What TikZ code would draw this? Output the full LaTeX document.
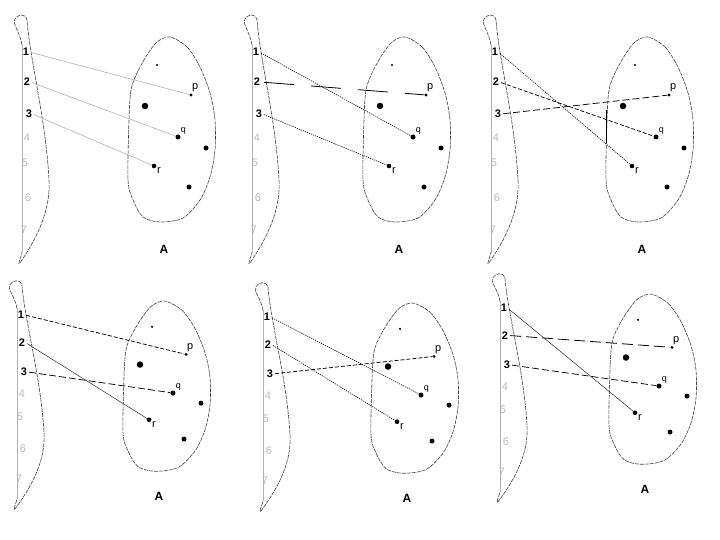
\documentclass[tikz,border=0pt]{standalone}
\usepackage{fontspec}
\setmainfont{Liberation Sans}
\usetikzlibrary{positioning}

\begin{document}
\begin{tikzpicture}[x=1bp,y=-1bp,
every node/.style={inner sep=0pt},
num/.style={font=\fontsize{11}{11}\selectfont\bfseries},
numoff/.style={font=\fontsize{11}{11}\selectfont,text=gray!55},
spot/.style={circle,fill=black,minimum size=#1},
lbl/.style={font=\fontsize{11}{11}\selectfont,label distance=1bp},
outline/.style={gray!50!black,line width=0.6bp,dash pattern=on 4bp off 1bp},
faint/.style={gray!60,line width=0.6bp,shorten <=2bp},
plain/.style={black!85,line width=0.5bp,shorten <=2bp},
fine/.style={black,line width=0.6bp,dash pattern=on 1.2bp off 1bp,shorten <=2bp},
shortdash/.style={black,line width=0.75bp,dash pattern=on 4bp off 2bp,shorten <=2bp},
middash/.style={black,line width=0.75bp,dash pattern=on 7bp off 3bp,shorten <=2bp},
widedash/.style={black,line width=0.8bp,dash pattern=on 11bp off 5bp,shorten <=2bp},
longdash/.style={black,line width=0.8bp,dash pattern=on 30bp off 17bp,shorten <=4bp}]
\useasboundingbox (0,0) rectangle (720,540);

%one panel for each way of sending 1,2,3 onto p,q,r
\foreach \k/\sx/\bx/\oy/\sy/\a/\b/\c/\sa/\sb/\sc in {
	1/0/0/0/1/p/q/r/faint/faint/faint,
	2/230/235/0/1/q/p/r/fine/longdash/fine,
	3/469/478/0/1/r/q/p/fine/shortdash/middash,
	4/-5/-5/267/0.92/p/r/q/shortdash/plain/middash,
	5/241/243/269/0.92/q/r/p/fine/fine/shortdash,
	6/478/481/260/0.92/r/p/q/plain/widedash/middash}{
\begin{scope}[shift={(0,\oy)},yscale=\sy]
	%strip with the numbers
	\begin{scope}[shift={(\sx,0)}]
	\draw[gray!60,line width=0.7bp] (22,45) -- (22,252);
	\draw[outline] (22,45) .. controls (20,32) and (12,24) .. (15,19)
		.. controls (17,15) and (25,12) .. (27,20)
		.. controls (30,60) and (46,120) .. (49,180)
		.. controls (51,215) and (32,245) .. (20,263)
		.. controls (17,266) and (21,258) .. (22,252);
	\foreach \i/\x/\y in {1/26/52,2/27/82,3/29/114}
		\node[num] (n\k-\i) at (\x,\y) {\i};
	\foreach \i/\x/\y in {4/27/138,5/25/163,6/28/198,7/24/230}
		\node[numoff] (n\k-\i) at (\x,\y) {\i};
	\end{scope}
	%the set A
	\begin{scope}[shift={(\bx,0)}]
	\draw[outline] plot[smooth cycle] coordinates {(170,37) (187,47) (200,67) (210,93)
		(215,120) (215,150) (210,177) (200,200) (183,218) (160,222) (143,217)
		(133,200) (128,180) (129,120) (131,90) (137,73) (147,55) (157,42)};
	\node[spot=2.4bp] (s\k-1) at (157,65) {};
	\node[spot=6.5bp] (s\k-2) at (145,106) {};
	\node[spot=5bp] (s\k-3) at (206,148) {};
	\node[spot=5bp] (s\k-4) at (189,187) {};
	\node[spot=3.2bp,label={[lbl]70:p}] (\k-p) at (191,95) {};
	\node[spot=5bp,label={[lbl,font=\fontsize{9}{9}\selectfont]45:q}] (\k-q) at (178,137) {};
	\node[spot=4.6bp,label={[lbl]-30:r}] (\k-r) at (154,166) {};
	\node[font=\fontsize{12}{12}\selectfont\bfseries] (A\k) at (164,249) {A};
	\end{scope}
	%the mapping
	\draw[\sa] (n\k-1.east) -- (\k-\a);
	\draw[\sb] (n\k-2.east) -- (\k-\b);
	\draw[\sc] (n\k-3.east) -- (\k-\c);
\end{scope}
}
\draw[black,line width=0.7bp] (606,110) -- (606,143);
\end{tikzpicture}
\end{document}
